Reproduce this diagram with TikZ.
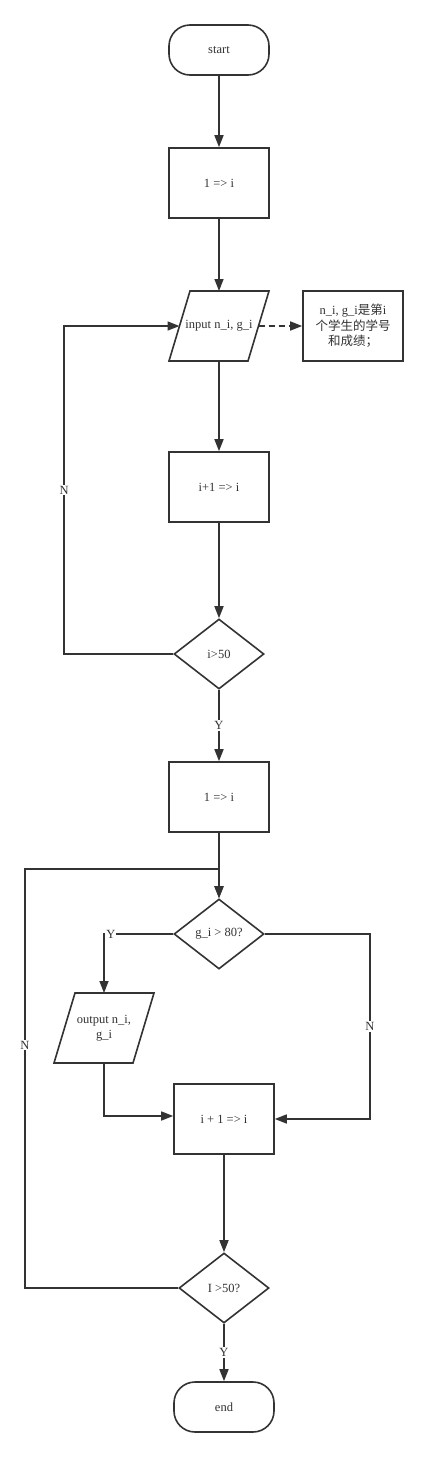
\documentclass[tikz,border=0pt]{standalone}
\usepackage{fontspec}
\setmainfont{Liberation Serif}
\newfontfamily\cjk{Noto Sans CJK SC}
\usetikzlibrary{shapes.geometric,arrows.meta}
\definecolor{linec}{HTML}{333333}
\tikzset{
  base/.style={draw=linec, line width=1.6pt, text=linec, font=\fontsize{12.5}{15.5}\selectfont, inner sep=2pt},
  term/.style={base, rectangle, rounded corners=21pt, minimum width=100pt, minimum height=50pt},
  proc/.style={base, rectangle, minimum width=100pt, minimum height=70pt},
  iotext/.style={base, draw=none, rectangle, outer sep=0pt, minimum width=79pt, minimum height=70pt, align=center},
  cond/.style={base, diamond, minimum width=90pt, minimum height=70pt, inner sep=0pt},
  flow/.style={draw=linec, line width=1.6pt, -{Triangle[length=12pt,width=9pt]}},
  lbl/.style={fill=white, text=linec, font=\fontsize{12.5}{15}\selectfont, inner sep=1pt},
}
% parallelogram round a text node
\newcommand\ioframe[1]{\draw[draw=linec, line width=1.6pt, line join=miter]
  ([xshift=-10.5pt]#1.south west) -- ([xshift=10.5pt]#1.north west) --
  ([xshift=10.5pt]#1.north east) -- ([xshift=-10.5pt]#1.south east) -- cycle;}
\begin{document}
\begin{tikzpicture}[x=1pt,y=-1pt]
\useasboundingbox[fill=white] (0,0) rectangle (428,1457);
% first loop: read the data
\node[term] (start) at (219,50) {start};
\node[proc] (init) at (219,183) {1 => i};
\node[iotext] (inp) at (219,326) {input n\_i, g\_i};
\ioframe{inp}
\node[proc, align=center] (note) at (353,326) {n\_i, g\_i{\cjk 是第}i\\{\cjk 个学生的学号}\\{\cjk 和成绩；}};
\node[proc] (incr) at (219,487) {i+1 => i};
\node[cond] (test) at (219,654) {i>50};
% second loop: print the good ones
\node[proc] (init2) at (219,797) {1 => i};
\node[cond] (cmp) at (219,934) {g\_i > 80?};
\node[iotext] (out) at (104,1028) {output n\_i,\\g\_i};
\ioframe{out}
\node[proc] (step) at (224,1119) {i + 1 => i};
\node[cond] (last) at (224,1288) {I >50?};
\node[term] (end) at (224,1407) {end};

\draw[flow] (start) -- (init);
\draw[flow] (init) -- (inp);
\draw[flow, dash pattern=on 6pt off 4pt] (inp) -- (note);
\draw[flow] (inp) -- (incr);
\draw[flow] (incr) -- (test);
\draw[flow] (test.west) -- ++(-109,0) |- node[lbl,pos=0.25]{N} (inp.west);
\draw[flow] (test) -- node[lbl]{Y} (init2);
\draw[flow] (init2) -- (cmp);
\draw[flow] (cmp.west) -| node[lbl,pos=0.45]{Y} (out.north);
\draw[flow] (cmp.east) -- ++(105,0) |- node[lbl,pos=0.25]{N} (step.east);
\draw[flow] (out.south) |- ([yshift=3pt]step.west);
\draw[flow] (step) -- (last);
\draw[flow] (last.west) -| node[lbl,pos=0.79]{N} (25,869) -| (cmp.north);
\draw[flow] (last) -- node[lbl]{Y} (end);
\end{tikzpicture}
\end{document}
